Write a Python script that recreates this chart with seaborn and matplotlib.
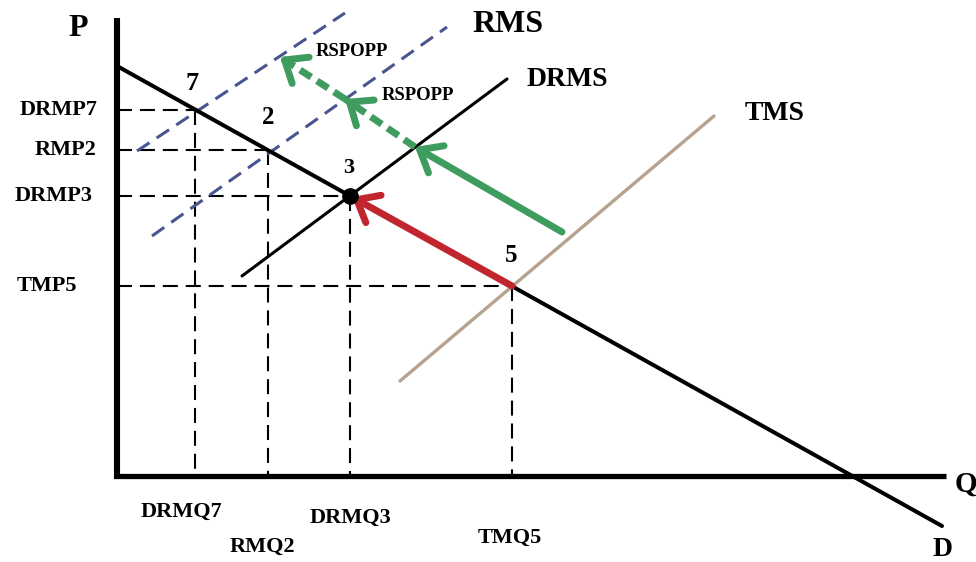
import matplotlib
matplotlib.use("Agg")
import matplotlib.pyplot as plt
import seaborn as sns
import pandas as pd

# ---------------- data (diagram units: Q to the right, P upward) ----------------
point_labels = ["7", "2", "3", "5"]
point_q = [78, 151, 233, 395]
point_p = [366, 326, 280, 190]

price_labels = ["DRMP7", "RMP2", "DRMP3", "TMP5"]
qty_labels = ["DRMQ7", "RMQ2", "DRMQ3", "TMQ5"]

demand_q = [0, 825]
demand_p = [410, -50]

drms_q = [125, 390]
drms_p = [200, 397]

tms_q = [283, 597]
tms_p = [95, 360]

rms_upper_q = [20, 228]
rms_upper_p = [325, 463]

rms_lower_q = [35, 330]
rms_lower_p = [240, 449]

green_solid_q = [445, 298]
green_solid_p = [244, 329]
green_dash1_q = [298, 228]
green_dash1_p = [329, 377]
green_dash2_q = [228, 163]
green_dash2_p = [377, 419]

red_q = [395, 235]
red_p = [190, 279]

# ---------------- layout ----------------
sns.set_theme(style="white")
plt.rcParams["font.family"] = ["Liberation Serif", "DejaVu Serif"]

fig = plt.figure(figsize=(9.76, 5.62), dpi=100)
ax = fig.add_axes([0, 0, 1, 1])
ax.set_xlim(-117, 859)
ax.set_ylim(-86, 476)
ax.axis("off")

BLACK = "#000000"
NAVY = "#4a5590"
TAN = "#b5a38e"
GREEN = "#3f9c5f"
RED = "#c1262f"


def line(q, p, **kw):
    sns.lineplot(x=q, y=p, ax=ax, sort=False, estimator=None, legend=False, **kw)


# axes
line([0, 0], [458, -3], color=BLACK, linewidth=4.4, solid_capstyle="butt")
line([-3, 829], [0, 0], color=BLACK, linewidth=3.8, solid_capstyle="butt")

# reference dashed lines
ref_dash = (0, (7.2, 3.8))
for q, p in zip(point_q, point_p):
    line([0, q], [p, p], color=BLACK, linewidth=1.5, linestyle=ref_dash)
    line([q, q], [p, 0], color=BLACK, linewidth=1.5, linestyle=ref_dash)

# RMS dashed supply lines
line(rms_upper_q, rms_upper_p, color=NAVY, linewidth=2.2, linestyle=(0, (4.9, 2.8)))
line(rms_lower_q, rms_lower_p, color=NAVY, linewidth=2.2, linestyle=(0, (4.9, 2.8)))

# supply curves
line(tms_q, tms_p, color=TAN, linewidth=2.4, solid_capstyle="round")
line(drms_q, drms_p, color=BLACK, linewidth=2.2, solid_capstyle="round")

# demand
line(demand_q, demand_p, color=BLACK, linewidth=2.9, solid_capstyle="round")

# arrows
head = "->,head_length=0.55,head_width=0.45"


def arrow(q, p, color, dashed=False):
    if dashed:
        line(q, p, color=color, linewidth=5, linestyle=(0, (1.9, 1.0)))
        fq = q[1] + (q[0] - q[1]) * 0.12
        fp = p[1] + (p[0] - p[1]) * 0.12
        ax.annotate("", xy=(q[1], p[1]), xytext=(fq, fp),
                    arrowprops=dict(arrowstyle=head, color=color, lw=5,
                                    mutation_scale=25, shrinkA=0, shrinkB=0))
    else:
        ax.annotate("", xy=(q[1], p[1]), xytext=(q[0], p[0]),
                    arrowprops=dict(arrowstyle=head, color=color, lw=5,
                                    mutation_scale=25, shrinkA=0, shrinkB=0,
                                    capstyle="round"))


arrow(green_solid_q, green_solid_p, GREEN)
arrow(green_dash1_q, green_dash1_p, GREEN, dashed=True)
arrow(green_dash2_q, green_dash2_p, GREEN, dashed=True)
arrow(red_q, red_p, RED)

# equilibrium dot at point 3
ax.plot([point_q[2]], [point_p[2]], "o", color=BLACK, markersize=11, zorder=5)

# ---------------- text ----------------
bold = dict(fontweight="bold", color=BLACK, ha="center", va="center")

ax.text(-39, 448, "P", fontsize=23, **bold)
ax.text(838, -8, "Q", fontsize=21, fontweight="bold", color=BLACK, ha="left", va="center")
ax.text(826, -74, "D", fontsize=20, **bold)
ax.text(391, 451, "RMS", fontsize=23, **bold)
ax.text(450, 396, "DRMS", fontsize=20, **bold)
ax.text(658, 363, "TMS", fontsize=20, **bold)
ax.text(235, 424, "RSPOPP", fontsize=13.5, **bold)
ax.text(301, 380, "RSPOPP", fontsize=13.5, **bold)

num_offsets = [(-3, 27), (0, 33), (-1, 28), (-1, 30)]
num_sizes = [19, 18, 16, 18]
for lab, q, p, (dq, dp), fs in zip(point_labels, point_q, point_p, num_offsets, num_sizes):
    ax.text(q + dq, p + dp, lab, fontsize=fs, **bold)

price_label_x = [-58, -51, -63, -70]
for lab, x, p in zip(price_labels, price_label_x, point_p):
    ax.text(x, p, lab, fontsize=16, **bold)

qty_label_dx = [-14, -6, 1, -2]
qty_label_p = [-36, -71, -42, -62]
for lab, q, dx, p in zip(qty_labels, point_q, qty_label_dx, qty_label_p):
    ax.text(q + dx, p, lab, fontsize=16, **bold)

fig.savefig("out.png", dpi=100, facecolor="white")
